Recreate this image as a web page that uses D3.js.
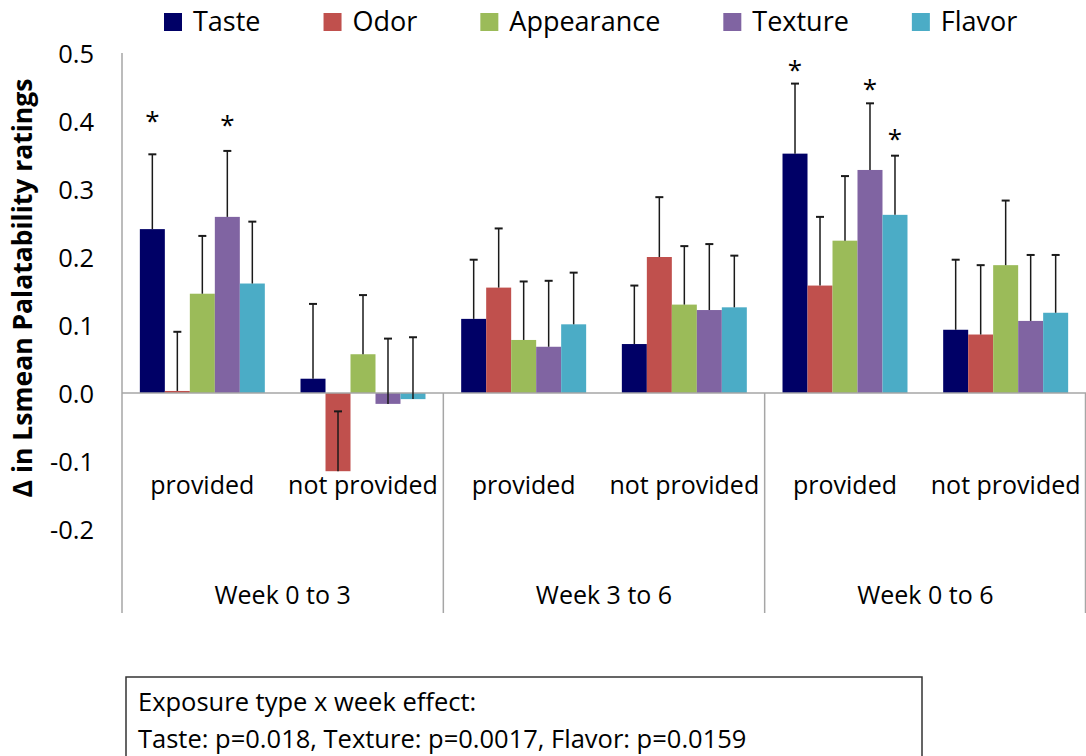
<!DOCTYPE html>
<html><head><meta charset="utf-8">
<script src="https://cdn.jsdelivr.net/npm/d3@7/dist/d3.min.js"></script>
<style>html,body{margin:0;padding:0;background:#fff;overflow:hidden}svg{display:block}text{font-family:"Open Sans",sans-serif;fill:#000}</style>
</head><body>
<script>
// ---- data ----
const weeks = ["Week 0 to 3", "Week 3 to 6", "Week 0 to 6"];
const exposures = ["provided", "not provided"];
const series = ["Taste", "Odor", "Appearance", "Texture", "Flavor"];
const colors = ["#000066", "#C0504D", "#9BBB59", "#8064A2", "#4BACC6"];
// values per group (week x exposure), order: Taste, Odor, Appearance, Texture, Flavor
const means = [
  [0.241, 0.003, 0.146, 0.259, 0.161],     // Week 0-3 provided
  [0.021, -0.115, 0.057, -0.016, -0.009],  // Week 0-3 not provided
  [0.109, 0.155, 0.078, 0.068, 0.101],     // Week 3-6 provided
  [0.072, 0.200, 0.130, 0.122, 0.126],     // Week 3-6 not provided
  [0.352, 0.158, 0.224, 0.328, 0.262],     // Week 0-6 provided
  [0.093, 0.086, 0.188, 0.106, 0.118]      // Week 0-6 not provided
];
const errors = [
  [0.110, 0.087, 0.085, 0.097, 0.091],
  [0.110, 0.088, 0.087, 0.096, 0.091],
  [0.087, 0.087, 0.086, 0.097, 0.076],
  [0.086, 0.088, 0.086, 0.097, 0.076],
  [0.103, 0.101, 0.095, 0.098, 0.087],
  [0.103, 0.102, 0.095, 0.097, 0.085]
];
// significance stars: [group index, series index, star level in data units]
const stars = [[0, 0, 0.405], [0, 3, 0.399], [4, 0, 0.480], [4, 3, 0.452], [4, 4, 0.378]];
const yTicks = [0.5, 0.4, 0.3, 0.2, 0.1, 0.0, -0.1, -0.2];
const yTitle = "\u0394 in Lsmean Palatability ratings";
const noteLines = ["Exposure type x week effect:", "Taste: p=0.018, Texture: p=0.0017, Flavor: p=0.0159"];

// ---- layout ----
const W = 1086, H = 756;
const svg = d3.select("body").append("svg").attr("width", W).attr("height", H);
const plotL = 122, plotR = 1086, plotT = 53, axisBottom = 613;
const y = d3.scaleLinear().domain([-0.2, 0.5]).range([529, 53]);
const xWeek = d3.scaleBand().domain(weeks).range([plotL, plotR]).padding(0);
const xExp = d3.scaleBand().domain(exposures).range([0, xWeek.bandwidth()]).padding(0);
const xSer = d3.scaleBand().domain(series).range([0, xExp.bandwidth()]).paddingInner(0).paddingOuter(0.714);
const axisColor = "#a6a6a6";
const fmt = v => (v < 0 ? "-" : "") + Math.abs(v).toFixed(1);

// y axis labels (no tick marks)
svg.append("g").selectAll("text").data(yTicks).join("text")
  .attr("x", 94).attr("y", d => y(d)).attr("text-anchor", "end")
  .attr("dominant-baseline", "central").style("font-size", "25.5px").text(fmt);

// y axis title
svg.append("text").attr("transform", `translate(32,${288}) rotate(-90)`)
  .attr("text-anchor", "middle").style("font-size", "26.5px").style("font-weight", "bold").text(yTitle);

// groups
const groups = [];
weeks.forEach((w, wi) => exposures.forEach((e, ei) => groups.push({w, e, gi: wi * 2 + ei})));
const gx = g => xWeek(g.w) + xExp(g.e);

const barsG = svg.append("g");
groups.forEach(g => {
  const gg = barsG.append("g").attr("transform", `translate(${gx(g)},0)`);
  gg.selectAll("rect").data(series.map((s, si) => ({s, si, v: means[g.gi][si]}))).join("rect")
    .attr("x", d => xSer(d.s)).attr("width", xSer.bandwidth())
    .attr("y", d => y(Math.max(0, d.v))).attr("height", d => Math.abs(y(d.v) - y(0)))
    .attr("fill", d => colors[d.si]);
});

// axes lines
svg.append("line").attr("x1", plotL).attr("x2", plotL).attr("y1", plotT).attr("y2", axisBottom)
  .attr("stroke", axisColor).attr("stroke-width", 1.5);
svg.append("line").attr("x1", plotL).attr("x2", plotR).attr("y1", y(0)).attr("y2", y(0))
  .attr("stroke", axisColor).attr("stroke-width", 1.5);
weeks.slice(1).concat(["end"]).forEach((w, i) => {
  const xx = w === "end" ? plotR - 0.5 : xWeek(w);
  svg.append("line").attr("x1", xx).attr("x2", xx).attr("y1", y(0)).attr("y2", axisBottom)
    .attr("stroke", axisColor).attr("stroke-width", 1.5);
});

// error bars (plus direction)
const errG = svg.append("g");
groups.forEach(g => {
  series.forEach((s, si) => {
    const cx = gx(g) + xSer(s) + xSer.bandwidth() / 2;
    const v = means[g.gi][si], top = v + errors[g.gi][si];
    errG.append("line").attr("x1", cx).attr("x2", cx).attr("y1", y(v)).attr("y2", y(top))
      .attr("stroke", "#1a1a1a").attr("stroke-width", 1.5);
    errG.append("line").attr("x1", cx - 4).attr("x2", cx + 4).attr("y1", y(top)).attr("y2", y(top))
      .attr("stroke", "#1a1a1a").attr("stroke-width", 2);
  });
});

// stars
svg.append("g").selectAll("text").data(stars).join("text")
  .attr("x", d => gx(groups[d[0]]) + xSer(series[d[1]]) + xSer.bandwidth() / 2)
  .attr("y", d => y(d[2]) + 12).attr("text-anchor", "middle")
  .style("font-size", "26px").text("*");

// exposure labels
groups.forEach(g => {
  svg.append("text").attr("x", gx(g) + xExp.bandwidth() / 2).attr("y", 494)
    .attr("text-anchor", "middle").style("font-size", "25px").text(g.e);
});
// week labels
weeks.forEach(w => {
  svg.append("text").attr("x", xWeek(w) + xWeek.bandwidth() / 2).attr("y", 604)
    .attr("text-anchor", "middle").style("font-size", "25px").text(w);
});

// legend
const leg = svg.append("g");
let lx = 164;
series.forEach((s, i) => {
  leg.append("rect").attr("x", lx).attr("y", 13).attr("width", 18).attr("height", 18).attr("fill", colors[i]);
  const t = leg.append("text").attr("x", lx + 29).attr("y", 31).style("font-size", "27px").text(s);
  lx += 29 + t.node().getComputedTextLength() + 63;
});

// note box
svg.append("rect").attr("x", 126).attr("y", 677).attr("width", 796).attr("height", 120)
  .attr("fill", "none").attr("stroke", "#333").attr("stroke-width", 1.5);
noteLines.forEach((l, i) => {
  svg.append("text").attr("x", 138).attr("y", 711 + i * 37).style("font-size", "25.5px").text(l);
});
</script>
</body></html>
